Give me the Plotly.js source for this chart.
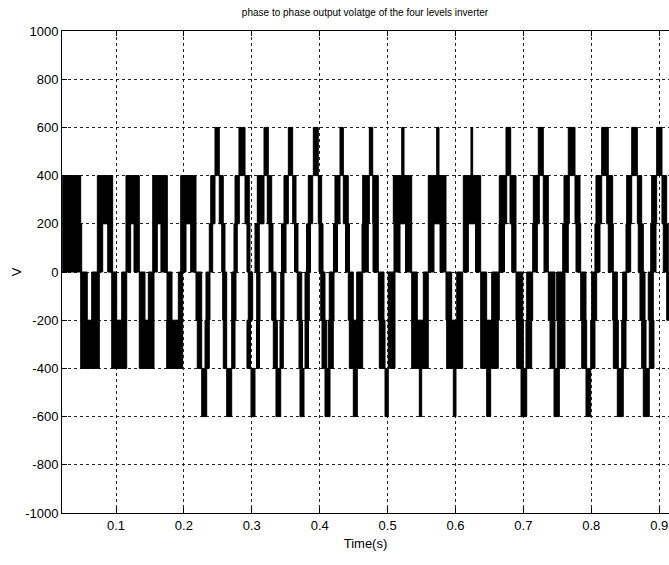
<!DOCTYPE html>
<html>
<head>
<meta charset="utf-8">
<script src="https://cdn.plot.ly/plotly-3.0.1.min.js"></script>
<style>
html,body{margin:0;padding:0;overflow:hidden;background:#fff;}
#chart{width:669px;height:565px;}
</style>
</head>
<body>
<div id="chart"></div>
<script>
// Time intervals (s) where the trace fills each voltage band (switching between adjacent levels)
const band400to600 = [
[0.2458,0.2521],[0.2811,0.2900],[0.3180,0.3243],[0.3538,0.3602],[0.3906,0.3979],[0.4299,0.4348],
[0.4731,0.4781],[0.5208,0.5242],[0.5723,0.5757],[0.6228,0.6253],[0.6744,0.6813],[0.7219,0.7293],
[0.7661,0.7760],[0.8153,0.8250],[0.8595,0.8678],[0.8963,0.9041]];

const band200to400 = [
[0.0215,0.0480],[0.0725,0.0951],[0.1147,0.1343],[0.1541,0.1756],[0.1953,0.2178],[0.2395,0.2458],
[0.2521,0.2580],[0.2753,0.2816],[0.2900,0.2963],[0.3081,0.3180],[0.3228,0.3293],[0.3474,0.3538],
[0.3602,0.3651],[0.3832,0.3897],[0.3979,0.4029],[0.4225,0.4299],[0.4348,0.4421],[0.4633,0.4731],
[0.4781,0.4863],[0.5084,0.5355],[0.5599,0.5860],[0.6115,0.6371],[0.6645,0.6754],[0.6803,0.6891],
[0.7146,0.7234],[0.7293,0.7367],[0.7598,0.7676],[0.7760,0.7834],[0.8069,0.8153],[0.8227,0.8315],
[0.8521,0.8595],[0.8678,0.8742],[0.8889,0.8963],[0.9041,0.9110]];

const band0to200 = [
[0.0215,0.0495],[0.0725,0.0804],[0.0878,0.0951],[0.1147,0.1216],[0.1265,0.1343],[0.1541,0.1608],
[0.1662,0.1756],[0.1953,0.2031],[0.2100,0.2178],[0.2374,0.2424],[0.2557,0.2605],[0.2738,0.2786],
[0.2929,0.2973],[0.3047,0.3110],[0.3253,0.3312],[0.3437,0.3504],[0.3629,0.3680],[0.3806,0.3865],
[0.3990,0.4049],[0.4203,0.4262],[0.4380,0.4439],[0.4623,0.4716],[0.4785,0.4863],[0.5094,0.5183],
[0.5264,0.5355],[0.5599,0.5683],[0.5772,0.5860],[0.6115,0.6189],[0.6295,0.6371],[0.6641,0.6722],
[0.6828,0.6891],[0.7137,0.7205],[0.7303,0.7367],[0.7579,0.7661],[0.7775,0.7844],[0.8054,0.8128],
[0.8250,0.8324],[0.8511,0.8580],[0.8692,0.8766],[0.8875,0.8953],[0.9060,0.9134]];

const bandMinus200to0 = [
[0.0480,0.0577],[0.0642,0.0754],[0.0937,0.1010],[0.1084,0.1158],[0.1343,0.1427],[0.1476,0.1560],
[0.1751,0.1825],[0.1918,0.1982],[0.2178,0.2262],[0.2325,0.2384],[0.2571,0.2630],[0.2704,0.2767],
[0.2948,0.3013],[0.3072,0.3121],[0.3293,0.3356],[0.3426,0.3474],[0.3670,0.3735],[0.3784,0.3847],
[0.4015,0.4078],[0.4141,0.4211],[0.4421,0.4495],[0.4545,0.4633],[0.4863,0.4947],[0.5010,0.5109],
[0.5355,0.5437],[0.5526,0.5599],[0.5860,0.5944],[0.6018,0.6106],[0.6371,0.6459],[0.6533,0.6645],
[0.6891,0.6990],[0.7049,0.7137],[0.7367,0.7465],[0.7490,0.7613],[0.7844,0.7922],[0.8006,0.8079],
[0.8315,0.8383],[0.8462,0.8521],[0.8717,0.8791],[0.8839,0.8913],[0.9110,0.9160]];

const bandMinus400toMinus200 = [
[0.0480,0.0754],[0.0937,0.1158],[0.1343,0.1560],[0.1747,0.1982],[0.2197,0.2262],[0.2311,0.2374],
[0.2580,0.2630],[0.2704,0.2753],[0.2929,0.2981],[0.3069,0.3113],[0.3317,0.3376],[0.3415,0.3464],
[0.3695,0.3747],[0.3784,0.3835],[0.4034,0.4103],[0.4127,0.4200],[0.4436,0.4633],[0.4878,0.4962],
[0.5010,0.5109],[0.5355,0.5599],[0.5870,0.6106],[0.6371,0.6630],[0.6901,0.6999],[0.7038,0.7122],
[0.7392,0.7465],[0.7499,0.7613],[0.7859,0.7932],[0.7991,0.8054],[0.8324,0.8398],[0.8448,0.8511],
[0.8742,0.8806],[0.8854,0.8923]];

const bandMinus600toMinus400 = [
[0.2262,0.2336],[0.2630,0.2704],[0.2988,0.3047],[0.3356,0.3426],[0.3710,0.3769],[0.4078,0.4152],
[0.4495,0.4554],[0.4962,0.5010],[0.5467,0.5502],[0.5968,0.6007],[0.6459,0.6518],[0.6965,0.7049],
[0.7451,0.7529],[0.7922,0.7991],[0.8383,0.8471],[0.8766,0.8854]];

const bandLevels = [[400,600],[200,400],[0,200],[-200,0],[-400,-200],[-600,-400]];
const xTickVals = [0.1,0.2,0.3,0.4,0.5,0.6,0.7,0.8,0.9];
const xTickText = ['0.1','0.2','0.3','0.4','0.5','0.6','0.7','0.8','0.9'];
const yTickVals = [-1000,-800,-600,-400,-200,0,200,400,600,800,1000];
const yTickText = ['-1000','-800','-600','-400','-200','0','200','400','600','800','1000'];

const bands = [band400to600, band200to400, band0to200, bandMinus200to0, bandMinus400toMinus200, bandMinus600toMinus400];

const traces = bands.map((pairs, i) => {
  const lo = bandLevels[i][0], hi = bandLevels[i][1];
  return {
    type: 'bar',
    x: pairs.map(p => (p[0] + p[1]) / 2),
    width: pairs.map(p => p[1] - p[0]),
    base: pairs.map(() => lo),
    y: pairs.map(() => hi - lo),
    marker: {color: '#000', line: {width: 1, color: '#000'}},
    hoverinfo: 'skip',
    showlegend: false
  };
});

const font = 'Liberation Sans, Arial, sans-serif';
const layout = {
  width: 669, height: 565,
  margin: {l: 62, r: 0, t: 31, b: 52, pad: 0},
  paper_bgcolor: '#fff', plot_bgcolor: '#fff',
  barmode: 'overlay', bargap: 0,
  font: {family: font, color: '#000', size: 13},
  title: {text: 'phase to phase output volatge of the four levels inverter',
          font: {family: font, size: 10, color: '#000'},
          x: 365/669, xanchor: 'center', xref: 'container',
          y: 1 - 12/565, yanchor: 'middle', yref: 'container'},
  xaxis: {
    range: [0.02047, 0.91444], tickmode: 'array', tickvals: xTickVals, ticktext: xTickText,
    ticks: 'inside', ticklen: 5, tickcolor: '#000', tickwidth: 1,
    showline: true, linecolor: '#000', linewidth: 1, mirror: 'ticks',
    showgrid: true, gridcolor: '#222', gridwidth: 1, griddash: '3px,3px',
    zeroline: false, tickfont: {family: font, size: 13, color: '#000'},
    title: {text: 'Time(s)', font: {family: font, size: 13, color: '#000'}, standoff: 7},
    fixedrange: true
  },
  yaxis: {
    range: [-1000, 1000], tickmode: 'array', tickvals: yTickVals, ticktext: yTickText,
    ticks: 'inside', ticklen: 5, tickcolor: '#000', tickwidth: 1,
    showline: true, linecolor: '#000', linewidth: 1, mirror: false,
    showgrid: true, gridcolor: '#222', gridwidth: 1, griddash: '3px,3px',
    zeroline: false, tickfont: {family: font, size: 13, color: '#000'},
    title: {text: 'V', font: {family: font, size: 13, color: '#000'}, standoff: 0},
    fixedrange: true
  }
};

Plotly.newPlot('chart', traces, layout, {displayModeBar: false, staticPlot: true});
</script>
</body>
</html>
